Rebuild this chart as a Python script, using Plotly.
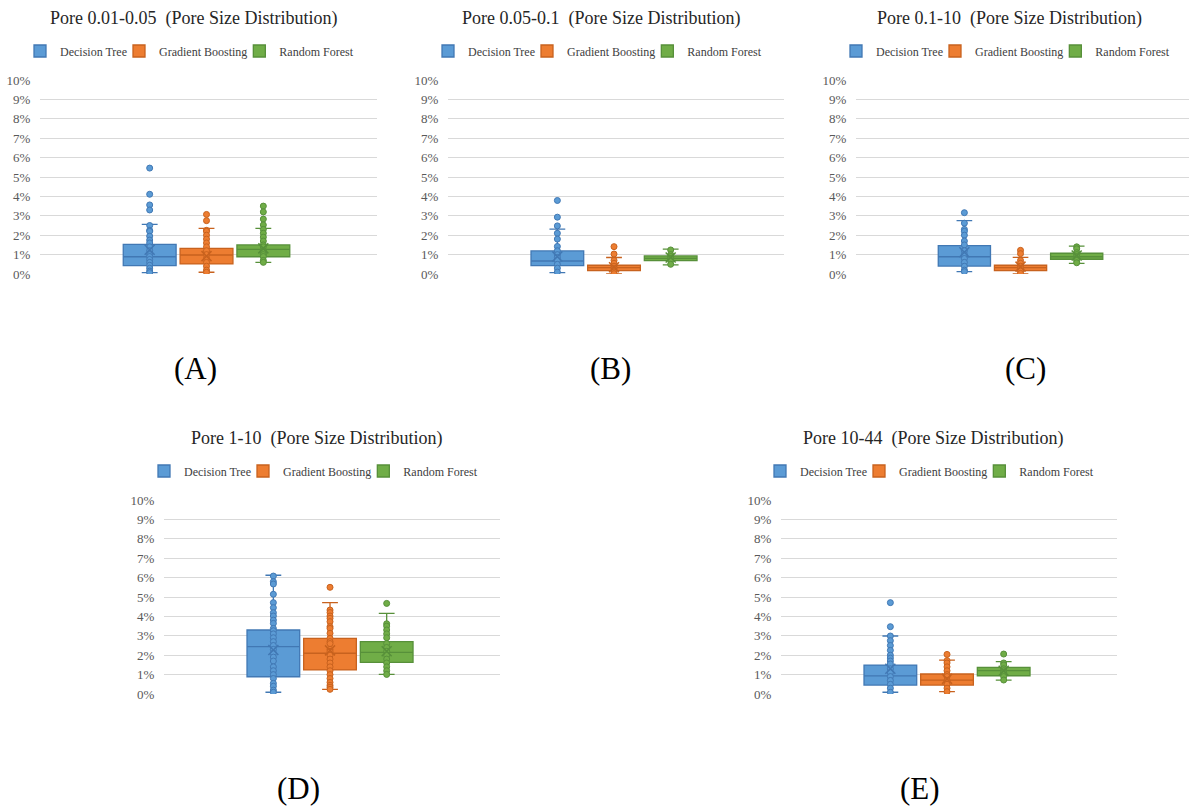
import plotly.graph_objects as go

# ---------------- data (values in %) ----------------
SERIES = ["Decision Tree", "Gradient Boosting", "Random Forest"]
COLORS = ["#5B9BD5", "#ED7D31", "#70AD47"]
LINECOLORS = ["#4178B4", "#C8621E", "#57903A"]

TITLES = ["Pore 0.01-0.05", "Pore 0.05-0.1", "Pore 0.1-10", "Pore 1-10", "Pore 10-44"]
LABELS = ["(A)", "(B)", "(C)", "(D)", "(E)"]
Y_TICKS = [0, 1, 2, 3, 4, 5, 6, 7, 8, 9, 10]
Y_TICK_LABELS = ["0%", "1%", "2%", "3%", "4%", "5%", "6%", "7%", "8%", "9%", "10%"]

# Panel A
A_Q1 = [0.43, 0.52, 0.89]
A_MED = [0.89, 0.98, 1.27]
A_Q3 = [1.53, 1.32, 1.50]
A_LO = [0.07, 0.09, 0.60]
A_HI = [2.56, 2.35, 2.35]
A_MEAN = [1.25, 0.92, 1.32]
A_PTS_DT = [5.46, 4.11, 3.56, 3.30, 2.50, 2.25, 2.20, 1.95, 1.75, 1.60, 1.40, 1.20, 1.00,
            0.90, 0.75, 0.60, 0.45, 0.30, 0.15, 0.07]
A_PTS_GB = [3.07, 2.75, 2.25, 2.20, 2.00, 1.80, 1.60, 1.40, 1.20, 1.00, 0.80, 0.60, 0.40,
            0.20, 0.09]
A_PTS_RF = [3.50, 3.20, 2.83, 2.53, 2.30, 2.10, 1.90, 1.70, 1.50, 1.40, 1.20, 1.10, 1.00,
            0.90, 0.70, 0.60]

# Panel B
B_Q1 = [0.43, 0.17, 0.69]
B_MED = [0.67, 0.33, 0.81]
B_Q3 = [1.19, 0.45, 0.93]
B_LO = [0.07, 0.00, 0.47]
B_HI = [2.31, 0.85, 1.28]
B_MEAN = [0.90, 0.35, 0.85]
B_PTS_DT = [3.79, 2.93, 2.48, 2.10, 1.80, 1.42, 1.20, 1.00, 0.85, 0.70, 0.50, 0.30, 0.10]
B_PTS_GB = [1.41, 1.03, 0.70, 0.55, 0.40, 0.30, 0.20, 0.10, 0.02]
B_PTS_RF = [1.24, 1.00, 0.90, 0.80, 0.70, 0.50]

# Panel C
C_Q1 = [0.41, 0.17, 0.76]
C_MED = [0.89, 0.33, 0.89]
C_Q3 = [1.46, 0.45, 1.07]
C_LO = [0.12, 0.00, 0.55]
C_HI = [2.75, 0.86, 1.44]
C_MEAN = [1.12, 0.38, 0.95]
C_PTS_DT = [3.16, 2.62, 2.30, 2.20, 2.00, 1.70, 1.50, 1.20, 1.00, 0.80, 0.60, 0.40, 0.20, 0.12]
C_PTS_GB = [1.22, 1.05, 0.70, 0.55, 0.40, 0.30, 0.15, 0.03]
C_PTS_RF = [1.40, 1.30, 1.10, 1.00, 0.90, 0.80, 0.70, 0.58]

# Panel D
D_Q1 = [0.89, 1.24, 1.63]
D_MED = [2.44, 2.10, 2.15]
D_Q3 = [3.30, 2.87, 2.70]
D_LO = [0.09, 0.24, 1.01]
D_HI = [6.12, 4.71, 4.16]
D_MEAN = [2.27, 2.25, 2.20]
D_PTS_DT = [6.08, 5.79, 5.67, 5.14, 4.71, 4.45, 4.19, 4.02, 3.81, 3.64, 3.38, 3.26, 3.10,
            2.90, 2.70, 2.50, 2.30, 2.10, 1.90, 1.70, 1.40, 1.20, 1.00, 0.80, 0.55, 0.40,
            0.20, 0.09]
D_PTS_GB = [5.50, 4.33, 4.20, 4.02, 3.90, 3.73, 3.47, 3.38, 3.13, 2.87, 2.70, 2.60, 2.30,
            2.20, 2.00, 1.80, 1.60, 1.40, 1.20, 1.00, 0.80, 0.60, 0.45, 0.35, 0.24]
D_PTS_RF = [4.67, 3.62, 3.50, 3.30, 3.10, 2.90, 2.60, 2.40, 2.20, 2.00, 1.80, 1.60, 1.40,
            1.20, 1.01]

# Panel E
E_Q1 = [0.46, 0.46, 0.94]
E_MED = [0.93, 0.72, 1.20]
E_Q3 = [1.49, 1.03, 1.37]
E_LO = [0.09, 0.12, 0.72]
E_HI = [2.99, 1.75, 1.67]
E_MEAN = [1.30, 0.78, 1.20]
E_PTS_DT = [4.71, 3.47, 2.99, 2.75, 2.50, 2.25, 2.00, 1.85, 1.70, 1.55, 1.30, 1.10, 0.90,
            0.70, 0.50, 0.30, 0.09]
E_PTS_GB = [2.04, 1.72, 1.60, 1.40, 1.20, 1.00, 0.90, 0.70, 0.50, 0.30, 0.12]
E_PTS_RF = [2.06, 1.60, 1.50, 1.30, 1.20, 1.10, 1.00, 0.90, 0.72]

PANELS = [
    (A_Q1, A_MED, A_Q3, A_LO, A_HI, A_MEAN, [A_PTS_DT, A_PTS_GB, A_PTS_RF]),
    (B_Q1, B_MED, B_Q3, B_LO, B_HI, B_MEAN, [B_PTS_DT, B_PTS_GB, B_PTS_RF]),
    (C_Q1, C_MED, C_Q3, C_LO, C_HI, C_MEAN, [C_PTS_DT, C_PTS_GB, C_PTS_RF]),
    (D_Q1, D_MED, D_Q3, D_LO, D_HI, D_MEAN, [D_PTS_DT, D_PTS_GB, D_PTS_RF]),
    (E_Q1, E_MED, E_Q3, E_LO, E_HI, E_MEAN, [E_PTS_DT, E_PTS_GB, E_PTS_RF]),
]

# ---------------- layout geometry (pixels in a 1189x806 canvas) ----------------
W, H = 1189, 806
PLOT_BOXES = [  # left, right, top, bottom
    (40, 377, 80, 274),
    (448, 784, 80, 274),
    (856, 1189, 80, 274),
    (164, 500, 500, 694),
    (781, 1117, 500, 694),
]
TITLE_POS = [(193, 19), (601, 19), (1009, 19), (316, 438), (933, 438)]
LEGEND_POS = [(196, 51), (604, 51), (1012, 51), (320, 471), (936, 471)]
LABEL_POS = [(195, 368), (610, 368), (1025, 368), (298, 788), (920, 788)]

SERIF = "Liberation Serif"

fig = go.Figure()
layout = dict(
    width=W, height=H, autosize=False,
    margin=dict(l=0, r=0, t=0, b=0, pad=0, autoexpand=False),
    paper_bgcolor="white", plot_bgcolor="white",
    font=dict(family=SERIF),
    showlegend=True,
    annotations=[],
)

for i, (q1, med, q3, lo, hi, mean, pts) in enumerate(PANELS):
    k = "" if i == 0 else str(i + 1)
    xa, ya = "x" + k, "y" + k
    leg = "legend" + k
    for j, name in enumerate(SERIES):
        fig.add_trace(go.Box(
            x=[name], q1=[q1[j]], median=[med[j]], q3=[q3[j]],
            lowerfence=[lo[j]], upperfence=[hi[j]],
            name=name, legend=leg, showlegend=True,
            fillcolor=COLORS[j],
            line=dict(color=LINECOLORS[j], width=1.3),
            whiskerwidth=0.3, width=0.93,
            boxpoints=False,
            xaxis=xa, yaxis=ya,
        ))
        fig.add_trace(go.Scatter(
            x=[name] * len(pts[j]), y=pts[j], mode="markers",
            marker=dict(symbol="circle", size=6, color=COLORS[j],
                        line=dict(color=LINECOLORS[j], width=1)),
            showlegend=False, hoverinfo="y", xaxis=xa, yaxis=ya,
        ))
        fig.add_trace(go.Scatter(
            x=[name], y=[mean[j]], mode="markers",
            marker=dict(symbol="x-thin-open", size=10, color=LINECOLORS[j],
                        line=dict(color=LINECOLORS[j], width=1.5)),
            showlegend=False, hoverinfo="y", xaxis=xa, yaxis=ya,
        ))

    l, r, t, b = PLOT_BOXES[i]
    layout["xaxis" + k] = dict(
        domain=[l / W, min(r / W, 1.0)], anchor=ya,
        type="category", categoryorder="array", categoryarray=SERIES,
        range=[-1.93, 4.0], showticklabels=False, showgrid=False,
        zeroline=False, showline=False, ticks="",
    )
    layout["yaxis" + k] = dict(
        domain=[1 - b / H, 1 - t / H], anchor=xa,
        range=[0, 10], tickmode="array", tickvals=Y_TICKS, ticktext=Y_TICK_LABELS,
        showgrid=True, gridcolor="#D9D9D9", gridwidth=1,
        zeroline=False, showline=False, automargin=False,
        ticks="outside", ticklen=6, tickcolor="rgba(0,0,0,0)",
        tickfont=dict(family=SERIF, size=13, color="#595959"),
    )
    lx, ly = LEGEND_POS[i]
    layout[leg] = dict(
        orientation="h", x=lx / W, y=1 - ly / H,
        xanchor="center", yanchor="middle",
        font=dict(family=SERIF, size=12, color="#404040"),
        bgcolor="rgba(0,0,0,0)", itemclick=False, itemdoubleclick=False,
        tracegroupgap=0, indentation=-13,
    )
    tx, ty = TITLE_POS[i]
    layout["annotations"].append(dict(
        text=TITLES[i] + "\u00a0 (Pore Size Distribution)",
        x=tx / W, y=1 - ty / H, xref="paper", yref="paper",
        xanchor="center", yanchor="middle", showarrow=False,
        font=dict(family=SERIF, size=18, color="#262626"),
    ))
    px, py = LABEL_POS[i]
    layout["annotations"].append(dict(
        text=LABELS[i], x=px / W, y=1 - py / H, xref="paper", yref="paper",
        xanchor="center", yanchor="middle", showarrow=False,
        font=dict(family=SERIF, size=31, color="#000000"),
    ))

fig.update_layout(**layout)
fig.write_html(
    "out.html",
    config={"displayModeBar": False},
    post_script=(
        "document.body.style.margin='0';"
        "document.documentElement.style.overflow='hidden';"
        "var gd=document.getElementById('{plot_id}');"
        "gd.style.position='fixed';gd.style.top='0px';gd.style.left='0px';"
    ),
)
